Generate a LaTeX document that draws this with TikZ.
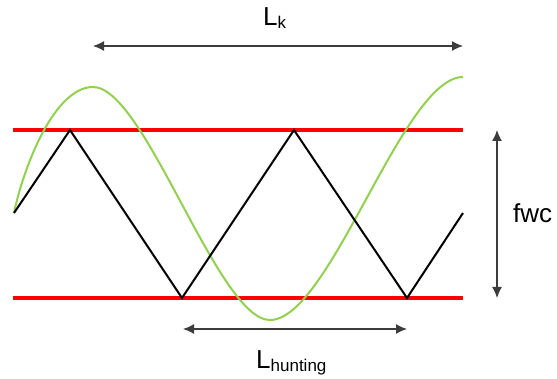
\documentclass[tikz,border=0pt]{standalone}
\usepackage{fontspec}
\setmainfont{Liberation Sans}
\usetikzlibrary{arrows.meta}
\definecolor{wavegreen}{RGB}{146,208,80}
\definecolor{arrowgray}{RGB}{60,60,60}
\tikzset{
  limitline/.style={draw=red,line width=4pt},
  zigzag/.style={draw=black,line width=2pt,line join=miter},
  wave/.style={draw=wavegreen,line width=2pt},
  dimarrow/.style={draw=arrowgray,line width=1.3pt,{Latex[length=11pt,width=10pt]}-{Latex[length=11pt,width=10pt]}},
  lbl/.style={anchor=base west,inner sep=0pt,font=\fontsize{26}{30}\selectfont},
}
\newcommand{\subtxt}[1]{\raisebox{-3pt}{\fontsize{17}{20}\selectfont #1}}
\begin{document}
\begin{tikzpicture}[x=1pt,y=-1pt]
\useasboundingbox (0,0) rectangle (557,379);
% limits
\coordinate (tl) at (13,130); \coordinate (tr) at (463,130);
\coordinate (bl) at (13,298); \coordinate (br) at (463,298);
\draw[limitline] (tl) -- (tr);
\draw[limitline] (bl) -- (br);
% green wave
\coordinate (w0) at (14,213);
\coordinate (w1) at (93,87);
\coordinate (w2) at (270,320);
\coordinate (w3) at (463,77);
\draw[wave] (w0) .. controls (24,165) and (55,87) .. (w1)
  .. controls (145,87) and (218,320) .. (w2)
  .. controls (330,320) and (403,77) .. (w3);
% zigzag
\coordinate (z0) at (14,213);
\coordinate (z1) at (70,130);
\coordinate (z2) at (182,298);
\coordinate (z3) at (294,130);
\coordinate (z4) at (407,298);
\coordinate (z5) at (463,213);
\draw[zigzag] (z0) -- (z1) -- (z2) -- (z3) -- (z4) -- (z5);
% dimension arrows
\coordinate (a1) at (93,46); \coordinate (a2) at (463,46);
\draw[dimarrow] (a1) -- (a2);
\coordinate (b1) at (497,130); \coordinate (b2) at (497,298);
\draw[dimarrow] (b1) -- (b2);
\coordinate (c1) at (183,329); \coordinate (c2) at (407,329);
\draw[dimarrow] (c1) -- (c2);
% labels
\node[lbl] (lk) at (263,26) {L\subtxt{k}};
\node[lbl] (fwc) at (513,223) {fwc};
\node[lbl] (lh) at (256,368) {L\subtxt{hunting}};
\end{tikzpicture}
\end{document}
